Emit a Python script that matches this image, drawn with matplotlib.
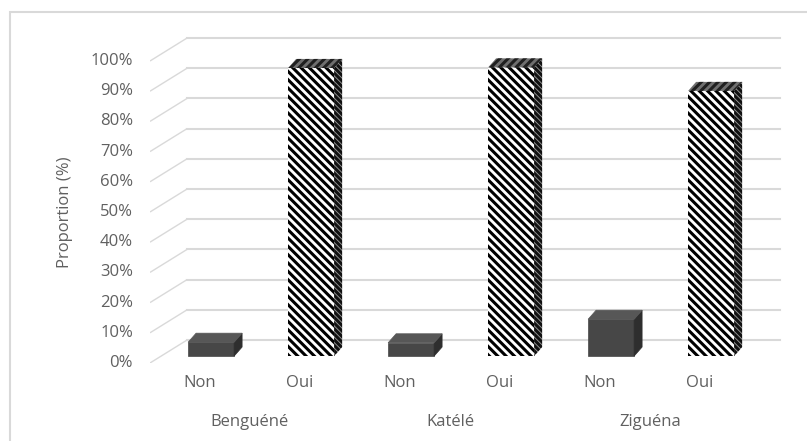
import numpy as np
import matplotlib
matplotlib.use("Agg")
import matplotlib.pyplot as plt
from matplotlib.patches import Polygon, Rectangle
from matplotlib.transforms import ScaledTranslation

# data (%)
sites = ["Benguéné", "Katélé", "Ziguéna"]
answers = ["Non", "Oui"]
non_vals = [4.6, 4.4, 12.2]
oui_vals = [95.4, 95.6, 87.8]
yticks = list(range(0, 101, 10))

TXT = "#606060"
GRID = "#d9d9d9"
FS = 12
plt.rcParams["font.family"] = ["Open Sans", "DejaVu Sans"]
plt.rcParams["hatch.linewidth"] = 2.2

W, H = 807, 441
fig = plt.figure(figsize=(W / 100, H / 100), dpi=100)
fig.patches.append(Rectangle((10 / W, -0.1), 1.2, 1.1 - 12 / H, transform=fig.transFigure,
                             fill=False, edgecolor=GRID, lw=1.5))

# axes = front plane, 1 category = 100 px, 1 % = 3.02 px
ax = fig.add_axes([150 / W, 1 - 363 / H, 640 / W, 333 / H])
ax.set_xlim(-0.5, 5.9)
ax.set_ylim(0, 333 / 3.02)
ax.axis("off")

# oblique depth of floor / wall, and of the bars
DX, DY = 0.37, 7.6
x0, xend = -0.5, 5.8
d0 = 0.3            # depth of bar front faces
bx, by = 0.08, 3.0  # bar depth vector
width = 0.46

lab_shift = ax.transData + ScaledTranslation(-17 / 100, 0, fig.dpi_scale_trans)
for v in yticks:
    ax.plot([x0, x0 + DX], [v, v + DY], color=GRID, lw=1, zorder=1, solid_capstyle="butt")
    ax.plot([x0 + DX, xend], [v + DY, v + DY], color=GRID, lw=1.5, zorder=1)
    ax.text(x0, v, f"{v}%", ha="right", va="center", fontsize=FS, color=TXT, transform=lab_shift)

pos = np.arange(6)
vals = [v for pair in zip(non_vals, oui_vals) for v in pair]
for i, v in zip(pos, vals):
    base = d0 * DY
    xl = i + d0 * DX - width / 2
    xr = xl + width
    top = base + v
    if i % 2 == 1:
        front_kw = dict(facecolor="white", edgecolor="black", hatch="\\\\\\\\", lw=0)
        top_kw = dict(facecolor="#6f6f6f", edgecolor="#202020", hatch="////", lw=0)
        side_kw = dict(facecolor="#9a9a9a", edgecolor="#111111", hatch="\\\\\\\\\\\\", lw=0)
    else:
        front_kw = dict(facecolor="#474747", edgecolor="#474747", lw=0.5)
        top_kw = dict(facecolor="#575757", edgecolor="#575757", lw=0.5)
        side_kw = dict(facecolor="#2e2e2e", edgecolor="#2e2e2e", lw=0.5)
    ax.bar(i + d0 * DX, v, width=width, bottom=base, zorder=3, **front_kw)
    ax.add_patch(Polygon([(xr, base), (xr + bx, base + by), (xr + bx, top + by), (xr, top)],
                         closed=True, zorder=3, **side_kw))
    ax.add_patch(Polygon([(xl, top), (xr, top), (xr + bx, top + by), (xl + bx, top + by)],
                         closed=True, zorder=3, **top_kw))

# category labels
for i in pos:
    ax.text(i, -6.6, answers[i % 2], ha="center", va="center", fontsize=FS, color=TXT)
for k, s in enumerate(sites):
    ax.text(2 * k + 0.5, -19.5, s, ha="center", va="center", fontsize=FS, color=TXT)

fig.text(65 / W, 1 - 212 / H, "Proportion (%)", rotation=90, ha="center", va="center",
         fontsize=FS, color=TXT)

fig.savefig("out.png", dpi=100)
